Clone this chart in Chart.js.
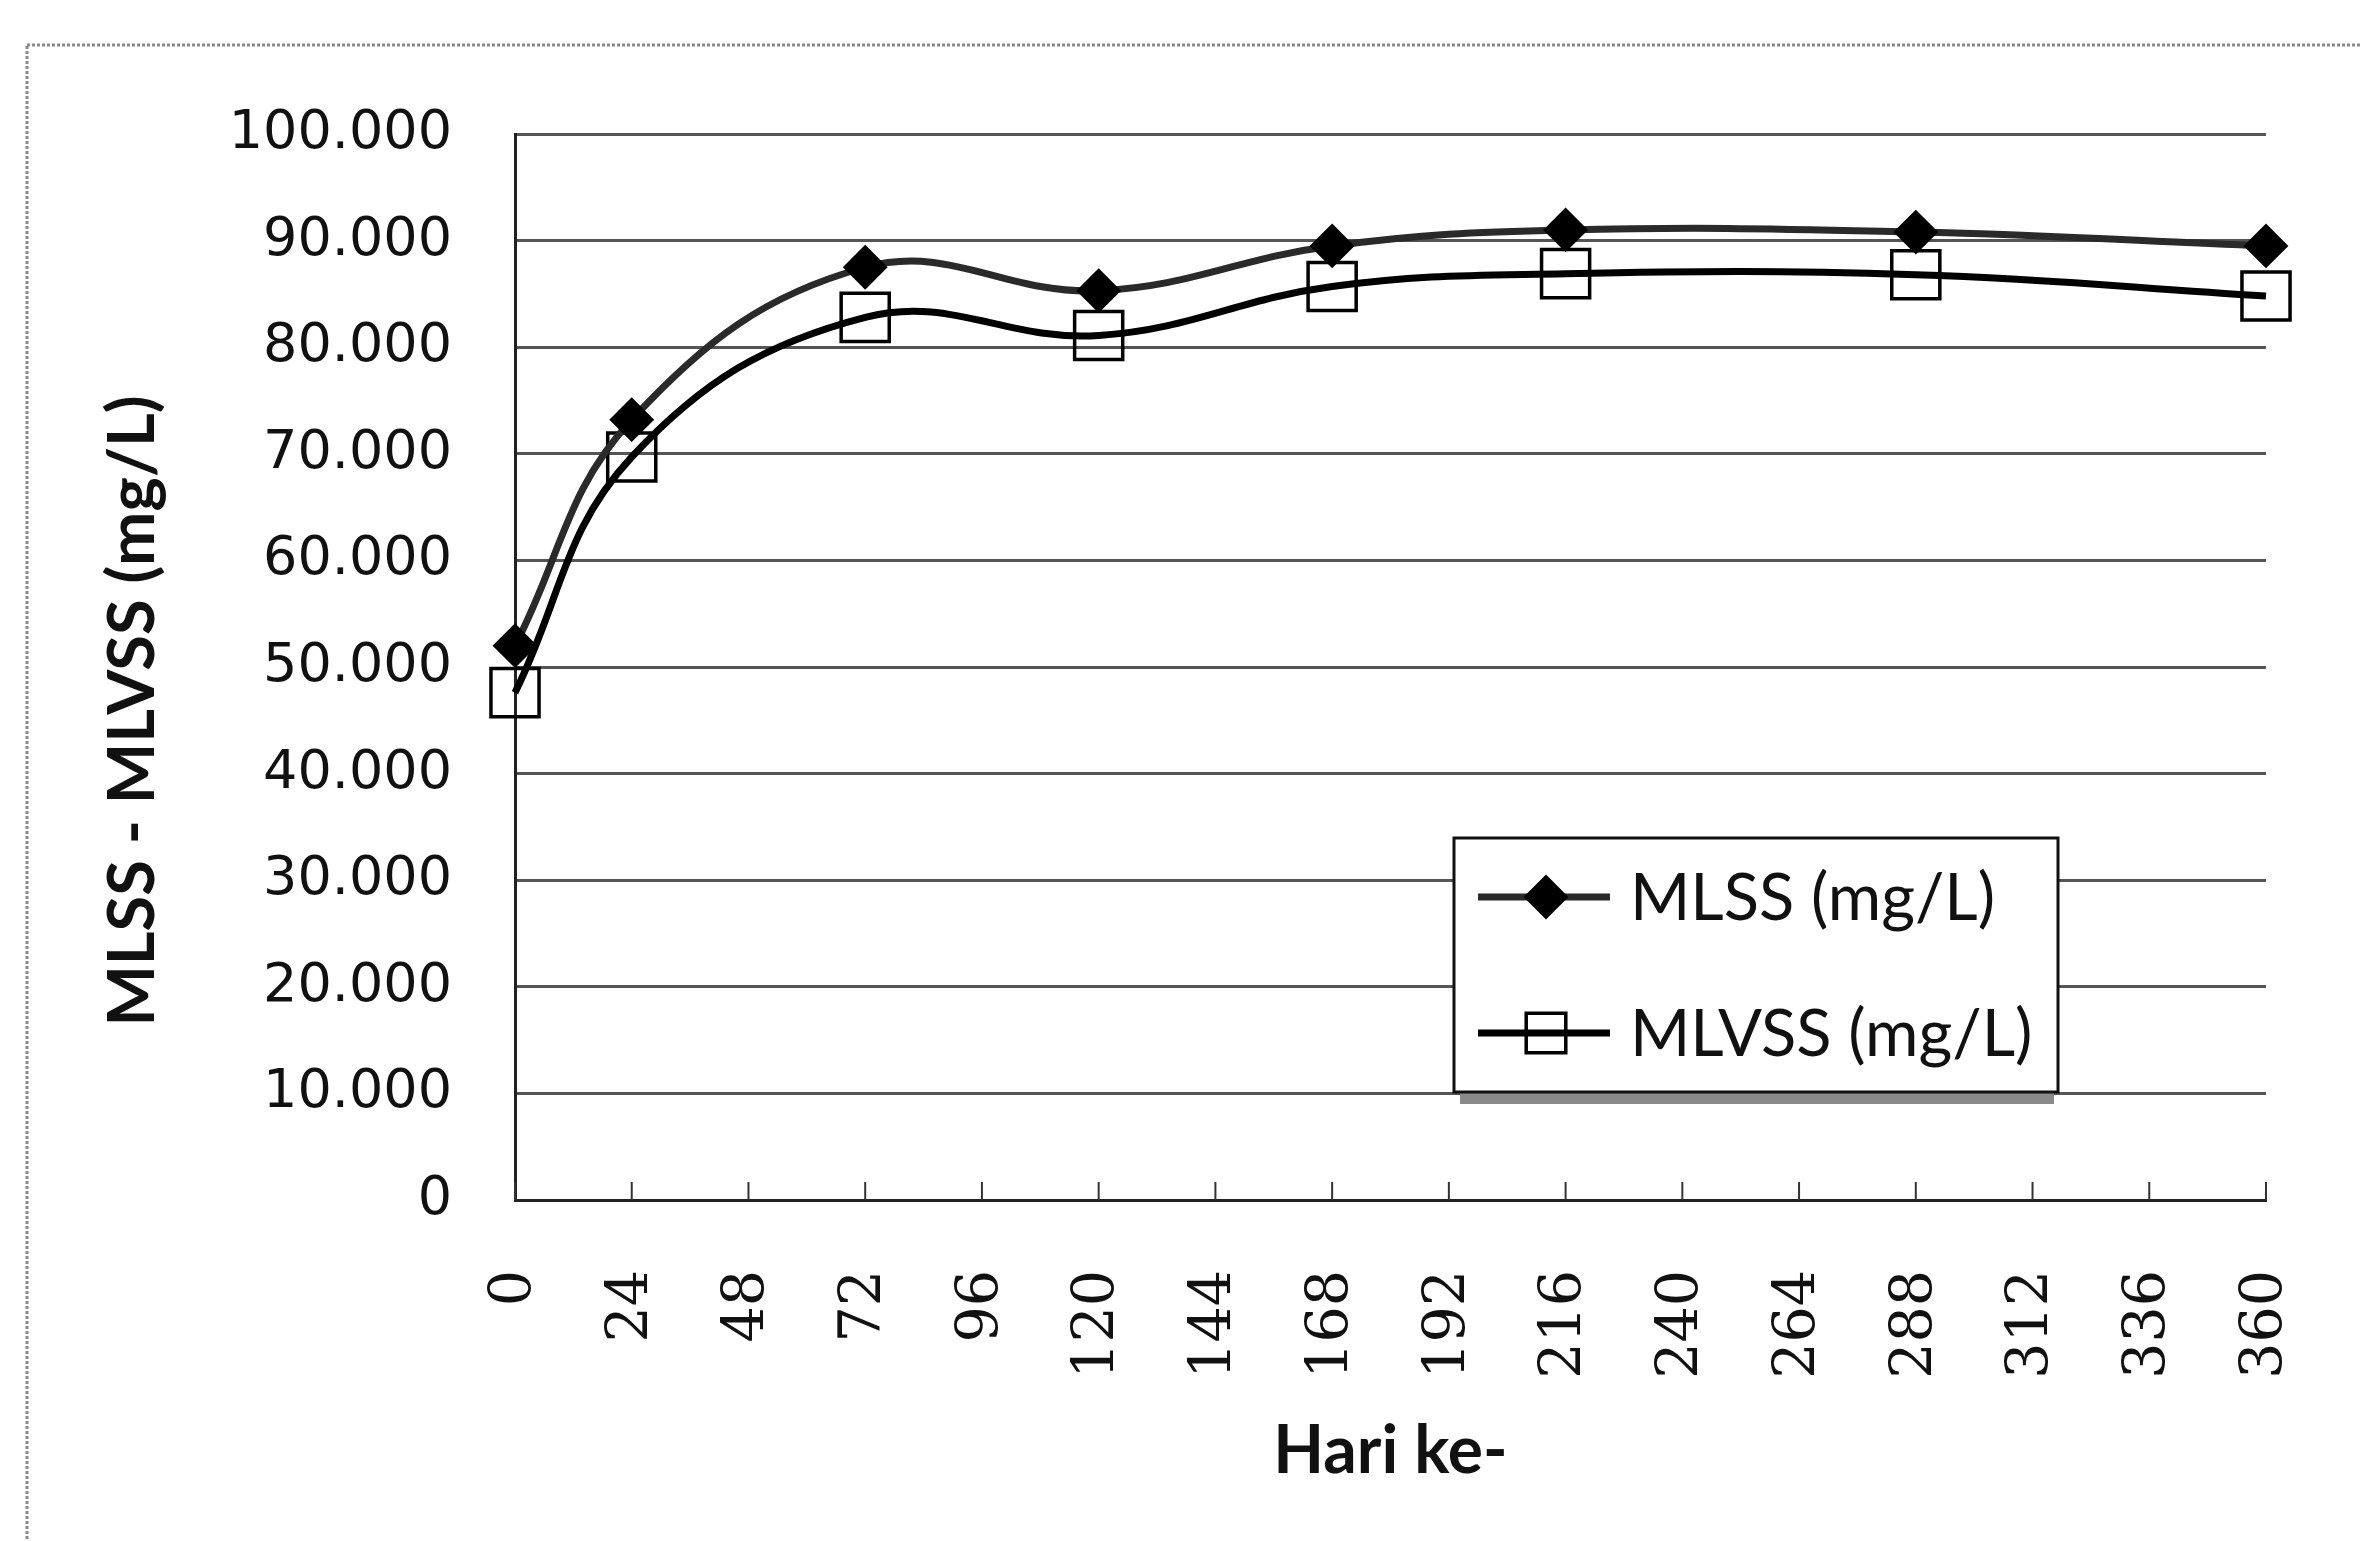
<!DOCTYPE html>
<html>
<head>
<meta charset="utf-8">
<script src="https://cdn.jsdelivr.net/npm/chart.js@4.4.1/dist/chart.umd.min.js"></script>
<style>
  html, body { margin: 0; padding: 0; background: #fff; }
  #wrap { width: 2361px; height: 1541px; }
</style>
</head>
<body>
<div id="wrap"><canvas id="chart" width="2361" height="1541"></canvas></div>
<script>
// sampling days and measured values (mg/L)
const days = [0, 24, 72, 120, 168, 216, 288, 360];
const mlss = [52000, 73200, 87500, 85300, 89500, 91000, 90800, 89500];
const mlvss = [47600, 69700, 82800, 81100, 85700, 86900, 86800, 84800];
const dayTicks = [0, 24, 48, 72, 96, 120, 144, 168, 192, 216, 240, 264, 288, 312, 336, 360];
const seriesNames = ['MLSS (mg/L)', 'MLVSS (mg/L)'];
const yTitle = 'MLSS - MLVSS (mg/L)';
const xTitle = 'Hari ke-';

// 100000 -> "100.000"
function dotThousands(v) {
    return String(Math.round(v)).replace(/\B(?=(\d{3})+(?!\d))/g, '.');
}

const toPoints = (ys) => days.map((d, i) => ({ x: d, y: ys[i] }));

const framePlugin = {
    id: 'frame',
    beforeDraw(chart) {
        const ctx = chart.ctx;
        ctx.save();
        ctx.fillStyle = '#fff';
        ctx.fillRect(0, 0, chart.width, chart.height);
        ctx.strokeStyle = '#8a8a8a';
        ctx.lineWidth = 3;
        ctx.setLineDash([3, 2]);
        ctx.strokeRect(27, 45, chart.width + 40, chart.height + 40);
        ctx.restore();
    }
};

// Excel style tick marks pointing into the plot
const innerTicks = {
    id: 'innerTicks',
    afterDatasetsDraw(chart) {
        const ctx = chart.ctx;
        const x = chart.scales.x;
        const bottom = chart.chartArea.bottom;
        ctx.save();
        ctx.strokeStyle = '#333';
        ctx.lineWidth = 2;
        dayTicks.forEach(d => {
            const px = x.getPixelForValue(d);
            ctx.beginPath();
            ctx.moveTo(px, bottom);
            ctx.lineTo(px, bottom - 18);
            ctx.stroke();
        });
        ctx.restore();
    }
};

const yTitlePlugin = {
    id: 'yTitle',
    afterDraw(chart) {
        const ctx = chart.ctx;
        ctx.save();
        ctx.translate(133, 711);
        ctx.rotate(-Math.PI / 2);
        ctx.font = 'bold 65px Lato';
        ctx.fillStyle = '#111';
        ctx.textAlign = 'center';
        ctx.textBaseline = 'middle';
        ctx.fillText(yTitle, 0, 0);
        ctx.restore();
    }
};

function drawMarker(ctx, style, x, y, r) {
    ctx.beginPath();
    if (style === 'rectRot') {
        ctx.moveTo(x - r, y);
        ctx.lineTo(x, y - r);
        ctx.lineTo(x + r, y);
        ctx.lineTo(x, y + r);
    } else {
        const s = r * Math.SQRT1_2;
        ctx.rect(x - s, y - s, 2 * s, 2 * s);
    }
    ctx.closePath();
}

const legendBox = {
    id: 'legendBox',
    afterDraw(chart) {
        const ctx = chart.ctx;
        const bx = 1454, by = 838, bw = 604, bh = 254;
        ctx.save();
        // shadow
        ctx.fillStyle = '#8a8a8a';
        ctx.fillRect(bx + 6, by + bh, bw - 10, 12);
        ctx.fillStyle = '#fff';
        ctx.fillRect(bx, by, bw, bh);
        ctx.strokeStyle = '#111';
        ctx.lineWidth = 3;
        ctx.strokeRect(bx, by, bw, bh);

        const rows = [897, 1033];
        chart.data.datasets.forEach((ds, i) => {
            const y = rows[i];
            ctx.strokeStyle = ds.borderColor;
            ctx.lineWidth = ds.borderWidth;
            ctx.beginPath();
            ctx.moveTo(1478, y);
            ctx.lineTo(1610, y);
            ctx.stroke();
            const r = ds.pointStyle === 'rectRot' ? 21 : 28;
            drawMarker(ctx, ds.pointStyle, 1546, y, r);
            ctx.fillStyle = ds.pointBackgroundColor;
            ctx.fill();
            ctx.lineWidth = ds.pointBorderWidth;
            ctx.strokeStyle = ds.pointBorderColor;
            ctx.stroke();

            ctx.fillStyle = '#111';
            ctx.font = '65px Lato';
            ctx.textAlign = 'left';
            ctx.textBaseline = 'middle';
            ctx.fillText(ds.label, 1630, y + 2);
        });
        ctx.restore();
    }
};

const config = {
    type: 'line',
    data: {
        datasets: [
            {
                label: seriesNames[0],
                data: toPoints(mlss),
                borderColor: '#2a2a2a',
                borderWidth: 7,
                tension: 0.4,
                clip: false,
                pointStyle: 'rectRot',
                pointRadius: 21,
                pointBackgroundColor: '#000',
                pointBorderColor: '#000',
                pointBorderWidth: 2
            },
            {
                label: seriesNames[1],
                data: toPoints(mlvss),
                borderColor: '#000',
                borderWidth: 7,
                tension: 0.4,
                clip: false,
                pointStyle: 'rect',
                pointRadius: 34,
                pointBackgroundColor: 'rgba(255,255,255,0)',
                pointBorderColor: '#000',
                pointBorderWidth: 3.5
            }
        ]
    },
    options: {
        responsive: false,
        animation: false,
        devicePixelRatio: 1,
        layout: { padding: { top: 134, right: 95, bottom: 0, left: 0 } },
        plugins: {
            legend: { display: false },
            title: { display: false },
            tooltip: { enabled: false }
        },
        scales: {
            x: {
                type: 'linear',
                min: 0,
                max: 360,
                afterBuildTicks: (scale) => {
                    scale.ticks = dayTicks.map(v => ({ value: v }));
                },
                afterFit: (scale) => {
                    scale.height = 341;
                    scale.paddingLeft = 0;
                    scale.paddingRight = 0;
                },
                grid: { drawOnChartArea: false, drawTicks: false },
                border: { display: true, color: '#222', width: 3 },
                ticks: {
                    autoSkip: false,
                    minRotation: 90,
                    maxRotation: 90,
                    padding: 70,
                    color: '#111',
                    font: { family: 'DejaVu Serif', size: 57 }
                },
                title: {
                    display: true,
                    text: xTitle,
                    color: '#111',
                    font: { family: 'Lato', weight: 'bold', size: 66 },
                    padding: { top: 0, bottom: 50 }
                }
            },
            y: {
                min: 0,
                max: 100000,
                afterFit: (scale) => {
                    scale.width = 515;
                    scale.paddingTop = 0;
                    scale.paddingBottom = 0;
                },
                grid: { color: '#555', lineWidth: 3, drawTicks: false },
                border: { display: true, color: '#222', width: 3 },
                ticks: {
                    stepSize: 10000,
                    padding: 63,
                    color: '#111',
                    font: { family: 'DejaVu Sans', size: 54 },
                    callback: (v) => dotThousands(v)
                }
            }
        }
    },
    plugins: [framePlugin, innerTicks, yTitlePlugin, legendBox]
};

new Chart(document.getElementById('chart'), config);
</script>
</body>
</html>
